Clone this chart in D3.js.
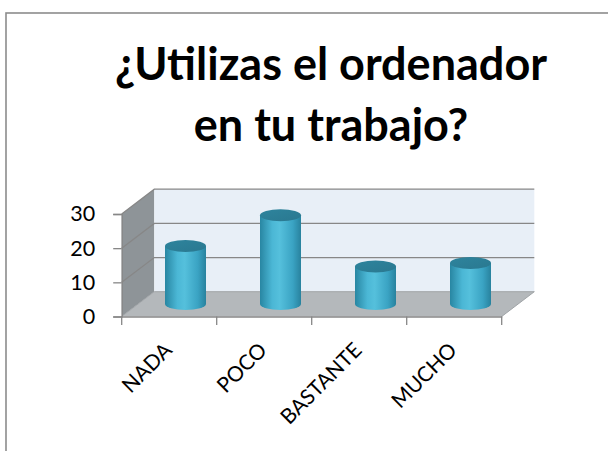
<!DOCTYPE html>
<html>
<head>
<meta charset="utf-8">
<script src="https://cdn.jsdelivr.net/npm/d3@7"></script>
<style>
  html, body { margin: 0; padding: 0; background: #fff; }
  svg { display: block; }
</style>
</head>
<body>
<svg id="chart" width="608" height="451"></svg>
<script>
// Survey answers: "¿Utilizas el ordenador en tu trabajo?"
const categories = ["NADA", "POCO", "BASTANTE", "MUCHO"];
const values = [17, 26, 11, 12];
const yTicks = [0, 10, 20, 30];
const titleLines = ["¿Utilizas el ordenador", "en tu trabajo?"];

const svg = d3.select("#chart");
const font = "Lato, 'Open Sans', sans-serif";

// outer frame
svg.append("rect")
  .attr("x", 6).attr("y", 13)
  .attr("width", 640).attr("height", 480)
  .attr("fill", "#fff")
  .attr("stroke", "#8c8c8c").attr("stroke-width", 1.6);

// title
svg.append("g").selectAll("text").data(titleLines).join("text")
  .attr("x", 331)
  .attr("y", (d, i) => 80 + i * 61)
  .attr("text-anchor", "middle")
  .attr("font-family", font)
  .attr("font-weight", "bold")
  .attr("font-size", 45)
  .attr("fill", "#000")
  .text(d => d);

// plot geometry (front plane + depth offset)
const x0 = 121.7, x1 = 501.7;
const dx = 32.6, dy = -24.8;

const x = d3.scaleBand().domain(categories).range([x0, x1]).padding(0);
const y = d3.scaleLinear().domain([0, 30]).range([316.5, 214]);

const g = svg.append("g");
const gridColor = "#878787";

// side wall
g.append("path")
  .attr("d", `M${x0},${y(0)} L${x0 + dx},${y(0) + dy} L${x0 + dx},${y(30) + dy} L${x0},${y(30)} Z`)
  .attr("fill", "#8e9498");

// back wall
g.append("path")
  .attr("d", `M${x0 + dx},${y(0) + dy} L${x1 + dx},${y(0) + dy} L${x1 + dx},${y(30) + dy} L${x0 + dx},${y(30) + dy} Z`)
  .attr("fill", "#e8eff7");

// floor
g.append("path")
  .attr("d", `M${x0},${y(0)} L${x1},${y(0)} L${x1 + dx},${y(0) + dy} L${x0 + dx},${y(0) + dy} Z`)
  .attr("fill", "#b4b8bb");

// gridlines: side diagonal + back horizontal
yTicks.filter(t => t > 0).forEach(t => {
  g.append("path")
    .attr("d", `M${x0},${y(t)} L${x0 + dx},${y(t) + dy} L${x1 + dx},${y(t) + dy}`)
    .attr("fill", "none")
    .attr("stroke", gridColor).attr("stroke-width", 1.3);
});

// floor edges
g.append("path")
  .attr("d", `M${x0},${y(0)} L${x0 + dx},${y(0) + dy} L${x1 + dx},${y(0) + dy} L${x1},${y(0)}`)
  .attr("fill", "none")
  .attr("stroke", "#a0a4a7").attr("stroke-width", 1);

// value axis
const yAxis = g.append("g")
  .attr("transform", `translate(${x0},0)`)
  .call(d3.axisLeft(y).tickValues(yTicks).tickSize(8.5).tickPadding(18).tickFormat(d3.format("d")));
yAxis.select(".domain").attr("stroke", gridColor).attr("stroke-width", 1.3);
yAxis.selectAll(".tick line").attr("stroke", gridColor).attr("stroke-width", 1.3);
yAxis.selectAll("text")
  .attr("font-family", font).attr("font-size", 21.5).attr("fill", "#000");

// category axis
const xAxis = g.append("g")
  .attr("transform", `translate(0,${y(0)})`)
  .call(d3.axisBottom(x).tickSize(0).tickFormat(""));
xAxis.select(".domain").attr("stroke", gridColor).attr("stroke-width", 1.3);
xAxis.selectAll(".tick").remove();
const bounds = categories.map(c => x(c)).concat([x1]);
xAxis.selectAll("line.sep").data(bounds).join("line")
  .attr("class", "sep")
  .attr("x1", d => d).attr("x2", d => d)
  .attr("y1", 0).attr("y2", 8.5)
  .attr("stroke", gridColor).attr("stroke-width", 1.3);

// category labels
g.append("g").selectAll("text").data(categories).join("text")
  .attr("transform", d => `translate(${x(d) + x.bandwidth() / 2 + 4},${y(0) + 35}) rotate(-45)`)
  .attr("text-anchor", "end")
  .attr("font-family", font).attr("font-size", 21)
  .attr("fill", "#000")
  .text(d => d);

// cylinder gradients
const defs = svg.append("defs");
const bodyGrad = defs.append("linearGradient").attr("id", "cylBody")
  .attr("x1", "0%").attr("x2", "100%").attr("y1", "0%").attr("y2", "0%");
[["0%", "#2886a2"], ["30%", "#4bb7d5"], ["48%", "#55c0dc"], ["80%", "#3aa3c3"], ["100%", "#28829e"]]
  .forEach(([o, c]) => bodyGrad.append("stop").attr("offset", o).attr("stop-color", c));
const capGrad = defs.append("linearGradient").attr("id", "cylTop")
  .attr("x1", "0%").attr("x2", "100%").attr("y1", "0%").attr("y2", "100%");
[["0%", "#2e849d"], ["100%", "#2a7890"]]
  .forEach(([o, c]) => capGrad.append("stop").attr("offset", o).attr("stop-color", c));

// cylinders sit half-way into the depth
const cylW = 41, ry = 6;
const bars = g.append("g").selectAll("g").data(categories.map((c, i) => ({ c, v: values[i] }))).join("g");
bars.append("path")
  .attr("d", d => {
    const cx = x(d.c) + x.bandwidth() / 2 + dx / 2;
    const l = cx - cylW / 2, r = cx + cylW / 2;
    const yb = y(0) + dy / 2, yt = y(d.v) + dy / 2;
    return `M${l},${yt} L${l},${yb} A${cylW / 2},${ry} 0 0 0 ${r},${yb} L${r},${yt} Z`;
  })
  .attr("fill", "url(#cylBody)");
bars.append("ellipse")
  .attr("cx", d => x(d.c) + x.bandwidth() / 2 + dx / 2)
  .attr("cy", d => y(d.v) + dy / 2)
  .attr("rx", cylW / 2).attr("ry", ry)
  .attr("fill", "url(#cylTop)");
</script>
</body>
</html>
